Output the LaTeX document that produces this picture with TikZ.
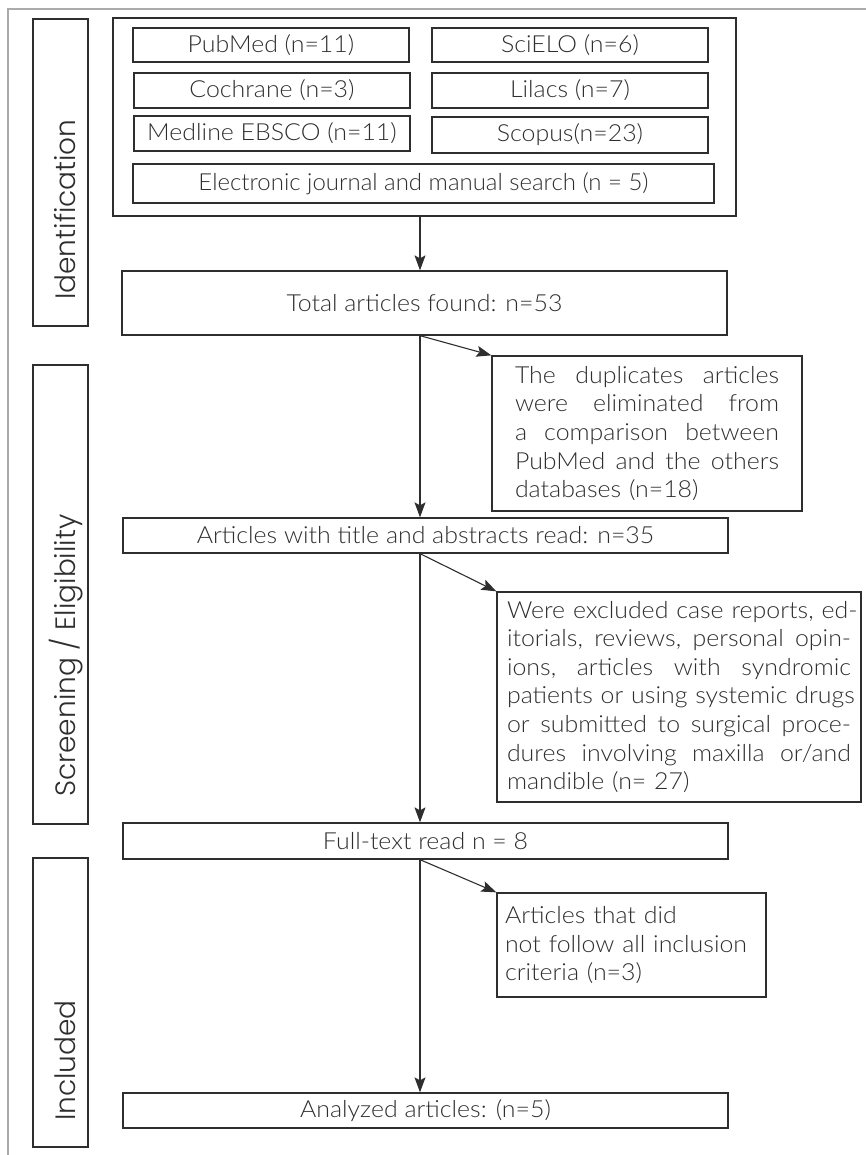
\documentclass[tikz,border=0pt]{standalone}
\usepackage{fontspec}
\setmainfont{Lato Light}[FakeStretch=1.06]
\newfontfamily\sidefont{Poppins Light}
\usetikzlibrary{arrows.meta}
\definecolor{ink}{HTML}{2E2E2E}
\definecolor{framec}{HTML}{ABABAB}
\newcommand\jline[2]{\leavevmode\hbox to #1{#2}}
\begin{document}
\begin{tikzpicture}[x=1pt,y=-1pt,
  box/.style={draw=ink, line width=1.3pt, text=ink, inner sep=0pt, font=\fontsize{23.5}{28.6}\selectfont},
  sidebox/.style={draw=ink, line width=1.3pt, minimum width=55pt, inner sep=0pt},
  sidetext/.style={rotate=90, anchor=base west, text=ink, inner sep=0pt, font=\sidefont\fontsize{28}{30}\selectfont},
  arr/.style={draw=ink, line width=1.1pt, -{Stealth[length=15pt,width=11pt,inset=3pt]}}]
\useasboundingbox (0,0) rectangle (866,1155);
\draw[framec, line width=1.2pt] (8,1155) -- (8,9) -- (866,9);

% side boxes
\node[sidebox, minimum height=307pt] (identbox) at (60.5,172.5) {};
\node[sidebox, minimum height=459pt] (screenbox) at (60.5,594.5) {};
\node[sidebox, minimum height=289pt] (inclbox) at (60.5,1002.5) {};
\node[sidetext] (identlbl) at (75,300) {Identification};
\node[sidetext] (screenlbl) at (75,797) {Screening / Eligibility};
\node[sidetext] (incllbl) at (75,1121) {Included};

% identification group
\node[box, minimum width=623pt, minimum height=198pt] (big) at (424.5,117) {};
\node[box, minimum width=276pt, minimum height=34pt] (pubmed) at (271,45) {PubMed (n=11)};
\node[box, minimum width=276pt, minimum height=34pt] (scielo) at (570,45) {SciELO (n=6)};
\node[box, minimum width=276pt, minimum height=35pt] (cochrane) at (272,90.5) {Cochrane (n=3)};
\node[box, minimum width=276pt, minimum height=35pt] (lilacs) at (570,90.5) {Lilacs (n=7)};
\node[box, minimum width=276pt, minimum height=35pt] (medline) at (272,133.5) {Medline EBSCO (n=11)};
\node[box, minimum width=276pt, minimum height=36pt] (scopus) at (570,135) {Scopus(n=23)};
\node[box, minimum width=581pt, minimum height=39pt] (electronic) at (423.5,183.5) {\resizebox{450pt}{\height}{Electronic journal and manual search (n = 5)}};

% main flow
\node[box, minimum width=605pt, minimum height=64pt] (total) at (424.5,303) {Total articles found: n=53};
\node[box, minimum width=310pt, minimum height=155pt, text width=264pt, align=left] (dup) at (647,433.5)
  {\jline{264pt}{The \hfill duplicates \hfill articles}\\
   \jline{264pt}{were \hfill eliminated \hfill from}\\
   \jline{264pt}{a \hfill comparison \hfill between}\\
   \jline{264pt}{PubMed \hfill and \hfill the \hfill others}\\
   databases (n=18)};
\node[box, minimum width=605pt, minimum height=35pt] (articles) at (425.5,535.5) {Articles with title and abstracts read: n=35};
\node[box, minimum width=364pt, minimum height=210pt, text width=344pt, align=left] (excl) at (679,697)
  {\jline{344pt}{Were \hfill excluded \hfill case \hfill reports, \hfill ed-}\\
   \jline{344pt}{itorials, \hfill reviews, \hfill personal \hfill opin-}\\
   \jline{344pt}{ions, \hfill articles \hfill with \hfill syndromic}\\
   \jline{344pt}{patients \hfill or \hfill using \hfill systemic \hfill drugs}\\
   \jline{344pt}{or \hfill submitted \hfill to \hfill surgical \hfill proce-}\\
   \jline{344pt}{dures \hfill involving \hfill maxilla \hfill or/and}\\
   mandible (n= 27)};
\node[box, minimum width=605pt, minimum height=36pt] (full) at (425.5,841) {Full-text read n = 8};
\node[box, minimum width=269pt, minimum height=104pt, text width=253pt, align=left] (notfollow) at (631.5,945)
  {\mbox{Articles that did}\\ \mbox{not follow all inclusion}\\ \mbox{criteria (n=3)}};
\node[box, minimum width=605pt, minimum height=35pt] (analyzed) at (425.5,1110.5) {Analyzed articles: (n=5)};

% connectors
\coordinate (spine) at (420,0);
\draw[arr] (big.south -| spine) -- (total.north -| spine);
\draw[arr] (total.south -| spine) -- (articles.north -| spine);
\draw[arr] (total.south -| spine) -- (dup.north west);
\draw[arr] (articles.south -| spine) -- (full.north -| spine);
\draw[arr] (articles.south -| spine) -- (excl.north west);
\draw[arr] (full.south -| spine) -- (analyzed.north -| spine);
\draw[arr] (full.south -| spine) -- (notfollow.north west);
\end{tikzpicture}
\end{document}
